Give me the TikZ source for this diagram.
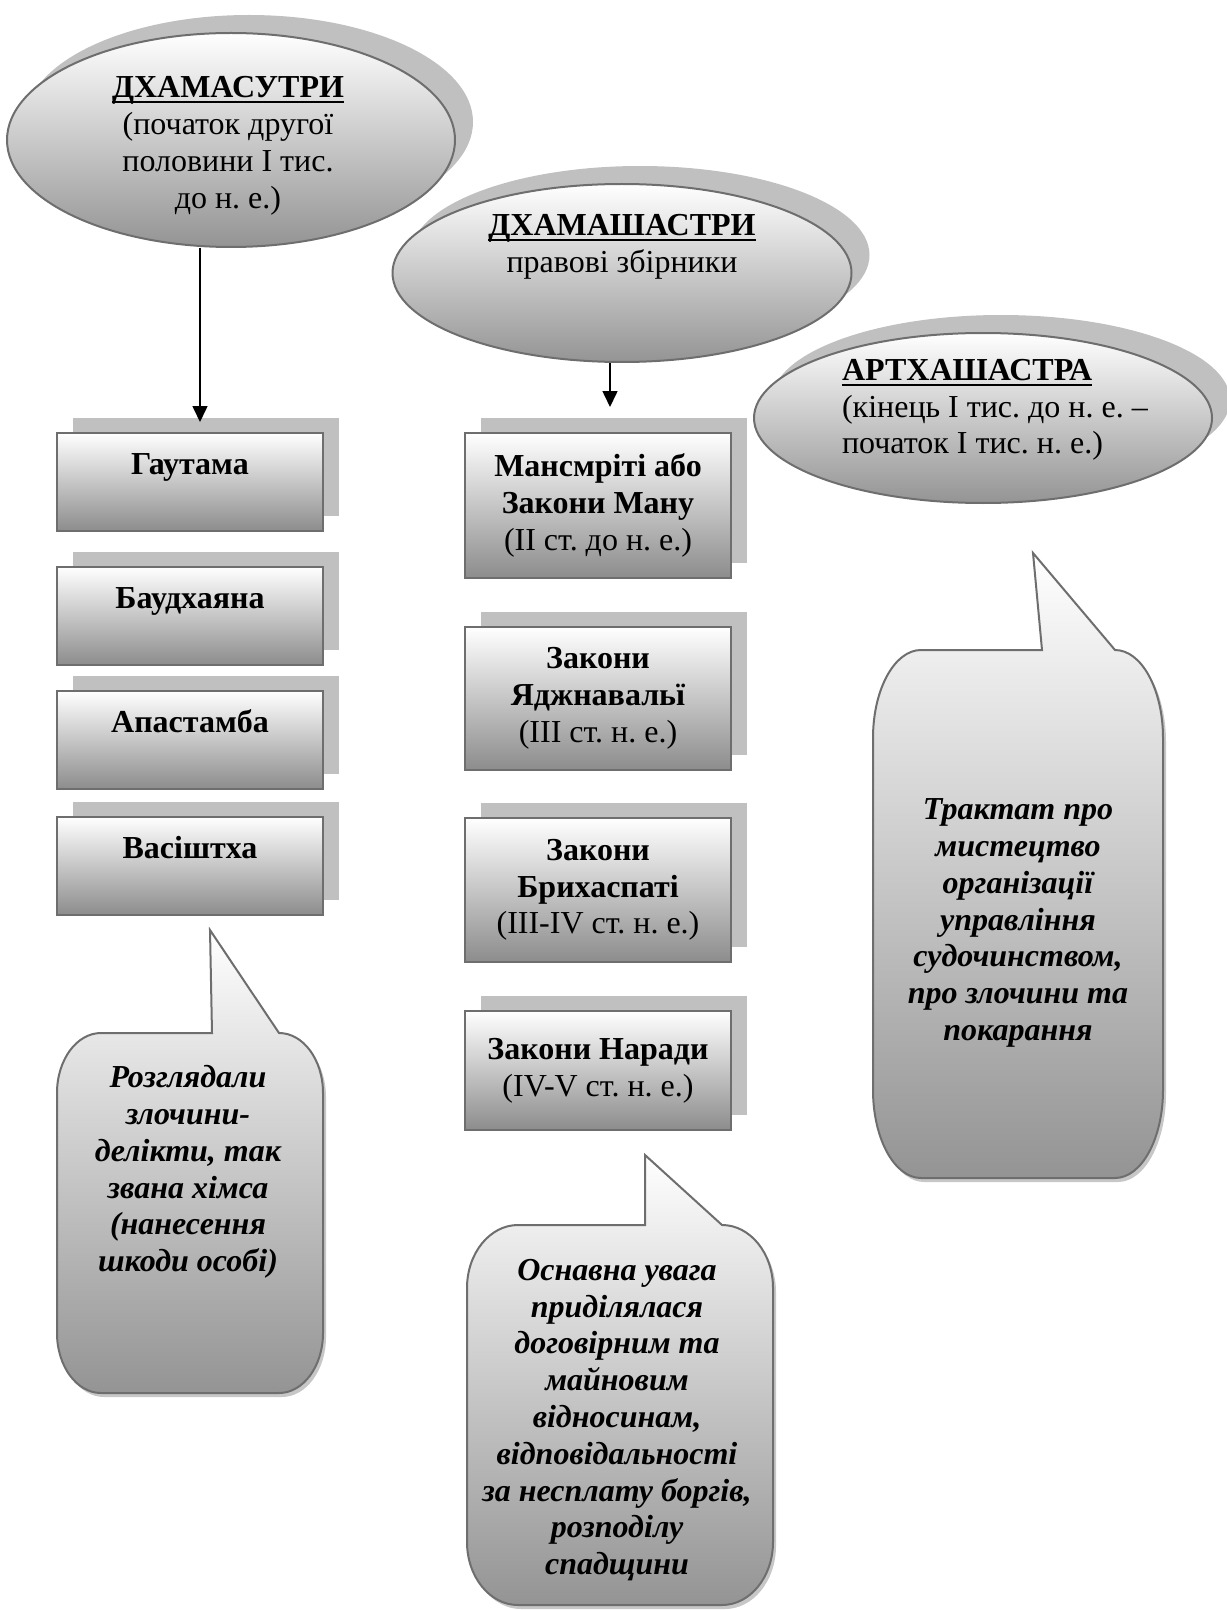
\documentclass[tikz,border=0pt]{standalone}
\usepackage{fontspec}
\setmainfont{Liberation Serif}
\usepackage{tikz}
\usetikzlibrary{positioning}
\usetikzlibrary{arrows.meta}
\usetikzlibrary{shapes.geometric}
\usetikzlibrary{shadows}
\frenchspacing
\newcommand{\undl}[1]{\setbox0\hbox{#1}\rlap{\rule[-2.6pt]{\wd0}{0.9pt}}\box0}
\definecolor{mgray}{RGB}{110,110,110}
\definecolor{mshadow}{RGB}{192,192,192}
\tikzset{
  every node/.style={font=\fontsize{16pt}{18.4pt}\selectfont},
  oval/.style={ellipse, draw=mgray, line width=1pt, inner sep=0pt, top color=white, bottom color=black!42,
    drop shadow={shadow xshift=9pt, shadow yshift=9pt, fill=mshadow, opacity=1}},
  box/.style={rectangle, draw=mgray, line width=1pt, top color=white, bottom color=black!45, align=center,
    inner sep=0pt, minimum width=133pt, drop shadow={shadow xshift=8pt, shadow yshift=7.5pt, fill=mshadow, opacity=1}},
  lbox/.style={box, minimum height=49pt, text height=10pt, text depth=18pt, font=\fontsize{16pt}{18.4pt}\selectfont\bfseries},
  bubble/.style={draw=mgray, line width=1pt, top color=white, bottom color=black!42,
    drop shadow={shadow xshift=1.5pt, shadow yshift=-2pt, fill=black!22, opacity=1}},
  note/.style={align=center, font=\fontsize{16pt}{18.4pt}\selectfont\bfseries\itshape},
  arr/.style={-{Triangle[width=7.5pt,length=8pt]}, line width=0.8pt},
}

\begin{document}
\begin{tikzpicture}[x=0.5pt, y=-0.5pt]
  \useasboundingbox (0,0) rectangle (1226,1610);

  \node[oval, minimum width=229.5pt, minimum height=89pt] (e2) at (622,273) {};
  \node[align=center] (e2t) at (622,247) {\undl{\textbf{ДХАМАШАСТРИ}}\\правові збірники};
  \node[oval, minimum width=224pt, minimum height=107pt] (e1) at (231,140) {};
  \node[align=center] (e1t) at (228,146) {\undl{\textbf{ДХАМАСУТРИ}}\\(початок другої\\половини І тис.\\до н. е.)};
  \node[oval, minimum width=229pt, minimum height=85pt] (e3) at (983,418) {};
  \node[align=left, anchor=west] (e3t) at (835,410) {\undl{\textbf{АРТХАШАСТРА}}\\(кінець І тис. до н. е. --\\початок І тис. н. е.)};

  \node[lbox] (g1) at (190,482) {Гаутама};
  \node[lbox] (g2) at (190,616) {Баудхаяна};
  \node[lbox] (g3) at (190,740) {Апастамба};
  \node[lbox] (g4) at (190,866) {Васіштха};

  \node[box, minimum height=72.5pt] (m1) at (598,505.5) {\textbf{Мансмріті або}\\\textbf{Закони Ману}\\(II ст. до н. е.)};
  \node[box, minimum height=71.5pt] (m2) at (598,698.5) {\textbf{Закони}\\\textbf{Яджнавальї}\\(III ст. н. е.)};
  \node[box, minimum height=72pt] (m3) at (598,890) {\textbf{Закони}\\\textbf{Брихаспаті}\\(III-IV ст. н. е.)};
  \node[box, minimum height=59.5pt] (m4) at (598,1070.5) {\textbf{Закони Наради}\\(IV-V ст. н. е.)};

  \draw[arr] ([xshift=-15.5pt]e1.south) -- ([xshift=5pt,yshift=5pt]g1.north);
  \draw[arr] ([xshift=-6pt]e2.south) -- ([xshift=6pt,yshift=12.5pt]m1.north);

  \draw[bubble] (212,1033) -- (210,930) -- (279,1033)
    arc[start angle=90, end angle=0, x radius=22pt, y radius=30pt] -- (323,1333)
    arc[start angle=0, end angle=-90, x radius=22pt, y radius=30pt] -- (101,1393)
    arc[start angle=270, end angle=180, x radius=22pt, y radius=30pt] -- (57,1093)
    arc[start angle=180, end angle=90, x radius=22pt, y radius=30pt] -- cycle;
  \node[note] (n1) at (188,1172) {Розглядали\\злочини-\\делікти, так\\звана хімса\\(нанесення\\шкоди особі)};

  \draw[bubble] (645,1225) -- (645,1155) -- (722,1225)
    arc[start angle=90, end angle=0, x radius=25.5pt, y radius=31.5pt] -- (773,1542)
    arc[start angle=0, end angle=-90, x radius=25.5pt, y radius=31.5pt] -- (518,1605)
    arc[start angle=270, end angle=180, x radius=25.5pt, y radius=31.5pt] -- (467,1288)
    arc[start angle=180, end angle=90, x radius=25.5pt, y radius=31.5pt] -- cycle;
  \node[note] (n2) at (617,1420) {Оснавна увага\\приділялася\\договірним та\\майновим\\відносинам,\\відповідальності\\за несплату боргів,\\розподілу\\спадщини};

  \draw[bubble] (1042,650) -- (1033,553) -- (1115,650)
    arc[start angle=90, end angle=0, x radius=24pt, y radius=44pt] -- (1163,1090)
    arc[start angle=0, end angle=-90, x radius=24pt, y radius=44pt] -- (921,1178)
    arc[start angle=270, end angle=180, x radius=24pt, y radius=44pt] -- (873,738)
    arc[start angle=180, end angle=90, x radius=24pt, y radius=44pt] -- cycle;
  \node[note] (n3) at (1018,923) {Трактат про\\мистецтво\\організації\\управління\\судочинством,\\про злочини та\\покарання};
\end{tikzpicture}
\end{document}
